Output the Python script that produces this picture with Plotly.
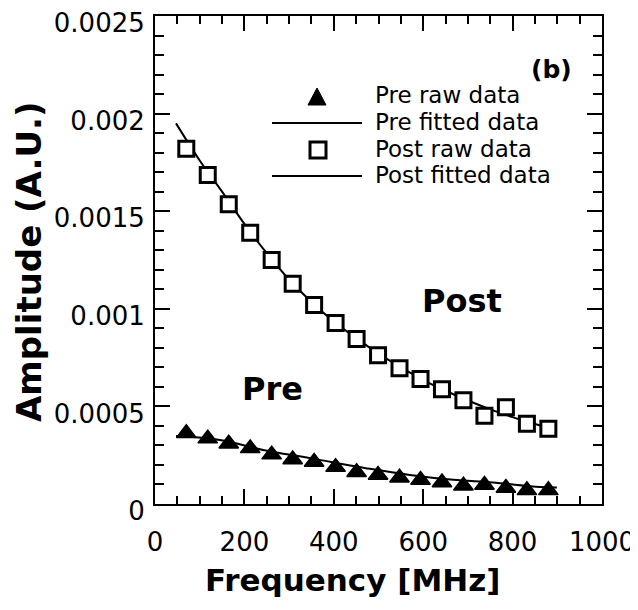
import plotly.graph_objects as go

# ---- data ----
freq_raw = [70, 118, 165, 213, 261, 308, 356, 404, 451, 499, 547, 594, 642, 690, 737, 785, 832, 880]
pre_raw = [3.62e-4, 3.35e-4, 3.09e-4, 2.85e-4, 2.53e-4, 2.28e-4, 2.15e-4, 1.89e-4, 1.63e-4,
           1.49e-4, 1.35e-4, 1.23e-4, 1.10e-4, 0.94e-4, 0.97e-4, 0.82e-4, 0.70e-4, 0.70e-4]
post_raw = [18.2e-4, 16.86e-4, 15.36e-4, 13.9e-4, 12.5e-4, 11.28e-4, 10.2e-4, 9.27e-4, 8.45e-4,
            7.62e-4, 6.96e-4, 6.41e-4, 5.88e-4, 5.32e-4, 4.52e-4, 4.96e-4, 4.11e-4, 3.86e-4]

freq_fit_pre = [47, 145, 242, 347, 481, 570, 667, 756, 861, 899]
pre_fit = [3.48e-4, 3.28e-4, 2.77e-4, 2.35e-4, 1.80e-4, 1.49e-4, 1.24e-4, 1.10e-4, 0.87e-4, 0.85e-4]

freq_fit_post = [47, 100, 150, 200, 250, 300, 350, 400, 450, 500, 550, 600, 650, 700, 750, 800, 850, 880]
post_fit = [19.5e-4, 17.6e-4, 16.0e-4, 14.35e-4, 12.85e-4, 11.5e-4, 10.35e-4, 9.35e-4, 8.5e-4,
            7.7e-4, 7.0e-4, 6.35e-4, 5.8e-4, 5.3e-4, 4.85e-4, 4.45e-4, 4.1e-4, 3.9e-4]

x_ticks = [0, 200, 400, 600, 800, 1000]
y_ticks = [0, 0.0005, 0.001, 0.0015, 0.002, 0.0025]
y_tick_text = ["0", "0.0005", "0.001", "0.0015", "0.002", "0.0025"]

legend_labels = ["Pre raw data", "Pre fitted data", "Post raw data", "Post fitted data"]

# ---- layout geometry (page pixels; the page body has an 8px margin) ----
OFF = 8
PAGE_W, PAGE_H = 638, 610
W, H = PAGE_W - OFF, PAGE_H - OFF
PL, PR, PT, PB = 155, 602, 16, 504          # plot frame in page pixels
L, T = PL - OFF, PT - OFF
R, B = PAGE_W - PR, PAGE_H - PB
PW, PH = PR - PL, PB - PT


def px(x):
    return (x - PL) / PW


def py(y):
    return (PB - y) / PH


FONT = "DejaVu Sans"

fig = go.Figure()
fig.add_trace(go.Scatter(x=freq_fit_pre, y=pre_fit, mode="lines",
                         line=dict(color="black", width=2, shape="spline"), showlegend=False))
fig.add_trace(go.Scatter(x=freq_fit_post, y=post_fit, mode="lines",
                         line=dict(color="black", width=2, shape="spline"), showlegend=False))
fig.add_trace(go.Scatter(x=freq_raw, y=pre_raw, mode="markers",
                         marker=dict(symbol="triangle-up", size=17, color="black",
                                     line=dict(color="black", width=1.5)), showlegend=False))
fig.add_trace(go.Scatter(x=freq_raw, y=post_raw, mode="markers",
                         marker=dict(symbol="square", size=15, color="white",
                                     line=dict(color="black", width=3)), showlegend=False))

shapes = []
annotations = []

# manual legend
tri_x, tri_y = 317, 97
shapes.append(dict(type="path", xref="paper", yref="paper",
                   path=f"M {px(tri_x-9)},{py(tri_y+8)} L {px(tri_x+9)},{py(tri_y+8)} L {px(tri_x)},{py(tri_y-9)} Z",
                   fillcolor="black", line=dict(color="black", width=1)))
shapes.append(dict(type="line", xref="paper", yref="paper", x0=px(272), x1=px(362), y0=py(123), y1=py(123),
                   line=dict(color="black", width=2)))
shapes.append(dict(type="rect", xref="paper", yref="paper", x0=px(310), x1=px(326), y0=py(158), y1=py(142),
                   fillcolor="white", line=dict(color="black", width=3)))
shapes.append(dict(type="line", xref="paper", yref="paper", x0=px(272), x1=px(362), y0=py(176), y1=py(176),
                   line=dict(color="black", width=2)))
for lab, yy in zip(legend_labels, [95, 122, 149, 175]):
    annotations.append(dict(text=lab, xref="paper", yref="paper", x=px(373), y=py(yy),
                            xanchor="left", yanchor="middle", showarrow=False,
                            font=dict(family=FONT, size=23, color="black")))

annotations.append(dict(text="<b>(b)</b>", xref="paper", yref="paper", x=px(551), y=py(70),
                        xanchor="center", yanchor="middle", showarrow=False,
                        font=dict(family=FONT, size=25, color="black")))
annotations.append(dict(text="<b>Post</b>", xref="paper", yref="paper", x=px(462), y=py(301),
                        xanchor="center", yanchor="middle", showarrow=False,
                        font=dict(family=FONT, size=32, color="black")))
annotations.append(dict(text="<b>Pre</b>", xref="paper", yref="paper", x=px(272), y=py(389),
                        xanchor="center", yanchor="middle", showarrow=False,
                        font=dict(family=FONT, size=32, color="black")))
annotations.append(dict(text="<b>Frequency [MHz]</b>", xref="paper", yref="paper", x=px(352), y=py(580),
                        xanchor="center", yanchor="middle", showarrow=False,
                        font=dict(family=FONT, size=31, color="black")))
annotations.append(dict(text="<b>Amplitude (A.U.)</b>", xref="paper", yref="paper", x=px(29), y=py(262),
                        xanchor="center", yanchor="middle", showarrow=False, textangle=-90,
                        font=dict(family=FONT, size=34, color="black")))

axis_common = dict(showline=True, linecolor="black", linewidth=2, mirror="allticks",
                   ticks="inside", ticklen=15, tickwidth=2, tickcolor="black",
                   showgrid=False, zeroline=False, automargin=False, ticklabeloverflow="allow",
                   tickfont=dict(family=FONT, size=26, color="black"))

fig.update_layout(
    width=W, height=H,
    margin=dict(l=L, r=R, t=T, b=B),
    paper_bgcolor="white", plot_bgcolor="white",
    showlegend=False,
    shapes=shapes, annotations=annotations,
    xaxis=dict(range=[0, 1000], tickvals=x_ticks, ticklabelstandoff=14,
               minor=dict(dtick=50, tick0=0, ticks="inside", ticklen=8, tickwidth=2, tickcolor="black"),
               **axis_common),
    yaxis=dict(range=[0, 0.0025], tickvals=y_ticks, ticktext=y_tick_text, ticklabelstandoff=3,
               ticklabelshift=7,
               minor=dict(dtick=0.0001, tick0=0, ticks="inside", ticklen=9, tickwidth=2, tickcolor="black"),
               **axis_common),
)

fig.write_html("out.html")
